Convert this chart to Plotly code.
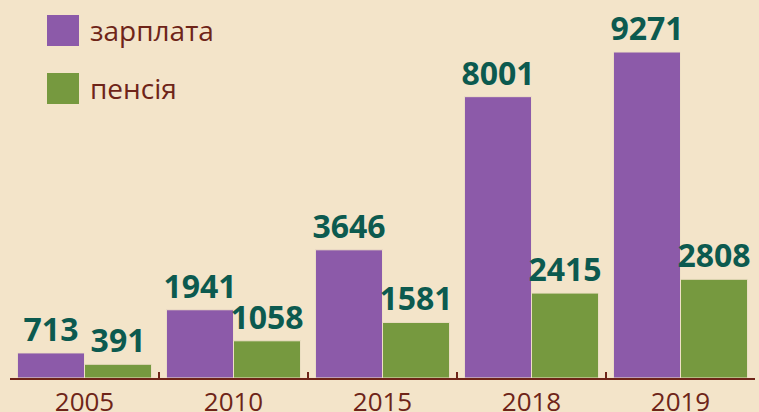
import plotly.graph_objects as go

years = ["2005", "2010", "2015", "2018", "2019"]
salary = [713, 1941, 3646, 8001, 9271]
pension = [391, 1058, 1581, 2415, 2808]
series_names = ["зарплата", "пенсія"]

BG = "#f3e4c9"
PURPLE = "#8c5aa9"
GREEN = "#76993f"
TEAL = "#0c5a4f"
BROWN = "#6e2418"

fig = go.Figure()
for name, vals, col in [(series_names[0], salary, PURPLE), (series_names[1], pension, GREEN)]:
    fig.add_trace(go.Bar(
        x=years, y=vals, name=name,
        marker=dict(color=col, line=dict(color="#efe0c6", width=1)),
        text=[str(v) for v in vals], textposition="outside",
        textfont=dict(family="Open Sans", size=32, color=TEAL, weight="bold"),
        constraintext="none",
        cliponaxis=False, showlegend=False,
    ))

# legend drawn as shapes + text
for i, (name, col) in enumerate(zip(series_names, [PURPLE, GREEN])):
    y0 = 15 + i * 58
    fig.add_shape(type="rect", xref="paper", yref="paper",
                  x0=(47 - 10) / 745, x1=(79 - 10) / 745,
                  y0=1 - (y0 + 31) / 378, y1=1 - y0 / 378,
                  fillcolor=col, line=dict(width=0))
    fig.add_annotation(xref="paper", yref="paper", x=(88 - 10) / 745,
                       y=1 - (y0 + 15) / 378, text=name, showarrow=False,
                       xanchor="left", yanchor="middle",
                       font=dict(family="Open Sans", size=28, color=BROWN))

fig.update_layout(
    width=759, height=412,
    margin=dict(l=10, r=4, t=0, b=34, autoexpand=False),
    paper_bgcolor=BG, plot_bgcolor=BG,
    barmode="group", bargap=0.1, bargroupgap=0,
    uniformtext=dict(mode=False),
    xaxis=dict(type="category", tickson="boundaries", ticks="inside", ticklen=6,
               tickwidth=2, tickcolor=BROWN, showline=True, linecolor=BROWN,
               linewidth=2, showgrid=False, automargin=False,
               tickfont=dict(family="Open Sans", size=26, color=BROWN)),
    yaxis=dict(range=[0, 10750], visible=False, showgrid=False, zeroline=False,
               automargin=False),
    font=dict(family="Open Sans"),
)

fig.write_html("out.html", config={"displayModeBar": False},
               post_script="document.body.style.margin='0';document.body.style.background='" + BG + "';")
